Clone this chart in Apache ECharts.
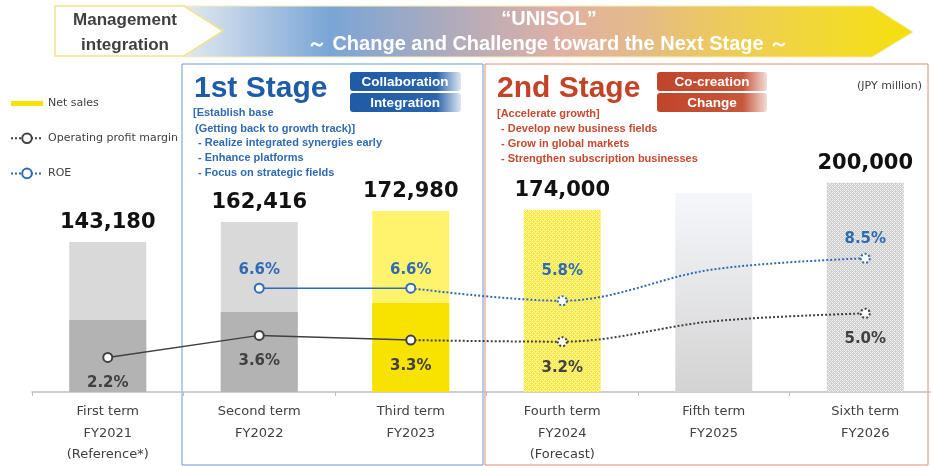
<!DOCTYPE html>
<html><head><meta charset="utf-8">
<script src="https://cdn.jsdelivr.net/npm/echarts@6/dist/echarts.min.js"></script>
<style>html,body{margin:0;padding:0;background:#fff}#c{width:931px;height:466px}</style>
</head><body><div id="c"></div>
<script>
// ---------- data ----------
const categories = ['First term\nFY2021\n(Reference*)', 'Second term\nFY2022', 'Third term\nFY2023',
  'Fourth term\nFY2024\n(Forecast)', 'Fifth term\nFY2025', 'Sixth term\nFY2026'];
const netSales = [143180, 162416, 172980, 174000, 190000, 200000];
const netSalesLowerPart = [68800, 76400, 85000, null, null, null];
const operatingProfitMargin = [2.2, 3.6, 3.3, 3.2, 4.5, 5.0];
const roe = [null, 6.6, 6.6, 5.8, 7.8, 8.5];
const valueLabelled = [true, true, true, true, false, true];
const lastActualIndex = 2;

// ---------- styles ----------
function pattern(bg, fg) {
  const c = document.createElement('canvas'); c.width = 4; c.height = 4;
  const g = c.getContext('2d'); g.fillStyle = bg; g.fillRect(0, 0, 4, 4); g.fillStyle = fg;
  for (let x = 0; x < 4; x++) for (let y = 0; y < 4; y++) {
    if ((x + y) % 4 === 0 || ((x - y) % 4 + 4) % 4 === 2) g.fillRect(x, y, 1, 1);
  }
  return { image: c, repeat: 'repeat' };
}
const fifthGrad = new echarts.graphic.LinearGradient(0, 0, 0, 1, [
  { offset: 0, color: '#f6f7fb' }, { offset: 1, color: '#d3d3d3' }]);
const topColors = ['#d9d9d9', '#d9d9d9', '#fff36e', pattern('#f9e838', '#fff8b8'), fifthGrad, pattern('#cfcfcf', '#efefef')];
const lowerColors = ['#b3b3b3', '#b3b3b3', '#f8e200'];
const OPM_C = '#404040', ROE_C = '#2e6bb4';
const roeLabelDist = [5, 5, 5, 17, 5, 6];
const numFont = '"DejaVu Sans", Verdana, sans-serif';
const arial = '"Liberation Sans", Arial, sans-serif';

function lineData(arr, color, solid, labelPos, dists) {
  return arr.map((v, i) => {
    const inRange = solid ? i <= lastActualIndex : i >= lastActualIndex;
    if (!inRange || v == null) return null;
    const own = solid ? true : i > lastActualIndex;
    const showSym = own && valueLabelled[i];
    return {
      value: v,
      symbol: showSym ? 'circle' : 'none',
      symbolSize: 9,
      itemStyle: { color: '#fff', borderColor: color, borderWidth: 2, borderType: solid ? 'solid' : 'dotted' },
      label: { show: showSym, position: labelPos, distance: dists ? dists[i] : 13, formatter: p => p.value.toFixed(1) + '%' }
    };
  });
}

function lineSeries(name, arr, color, labelPos, dists) {
  const common = {
    name, type: 'line', yAxisIndex: 1, z: 5, symbol: 'circle', symbolSize: 9,
    itemStyle: { color: '#fff', borderColor: color, borderWidth: 2 },
    label: { color, fontFamily: numFont, fontWeight: 'bold', fontSize: 15 },
    emphasis: { disabled: true }
  };
  return [
    Object.assign({}, common, { data: lineData(arr, color, true, labelPos, dists), lineStyle: { color, width: 1.5 } }),
    Object.assign({}, common, { data: lineData(arr, color, false, labelPos, dists), smooth: 0.35,
      lineStyle: { color, width: 2, type: 'dotted' } })
  ];
}

const chart = echarts.init(document.getElementById('c'));

const graphics = [
  { type: 'polygon', shape: { points: [[184, 6], [872, 6], [913, 32], [872, 57], [184, 57]] },
    style: { fill: new echarts.graphic.LinearGradient(0, 0, 1, 0, [
      { offset: 0, color: '#e4e9f0' }, { offset: 0.2, color: '#7aa5d6' }, { offset: 0.52, color: '#e0b1a4' },
      { offset: 0.63, color: '#e4bb88' }, { offset: 0.72, color: '#ecc862' }, { offset: 0.86, color: '#f1d839' },
      { offset: 1, color: '#f5e00c' }]), stroke: '#f7eeb0', lineWidth: 1 } },
  { type: 'polygon', shape: { points: [[55, 6], [184, 6], [223, 31], [184, 56], [55, 56]] },
    style: { fill: '#fff', stroke: '#f1e38a', lineWidth: 1.5 } },
  { type: 'text', style: { x: 125, y: 20, text: 'Management', font: 'bold 17px ' + arial, fill: '#404040', align: 'center', verticalAlign: 'middle' } },
  { type: 'text', style: { x: 125, y: 45, text: 'integration', font: 'bold 17px ' + arial, fill: '#404040', align: 'center', verticalAlign: 'middle' } },
  { type: 'text', style: { x: 549, y: 19, text: '\u201CUNISOL\u201D', font: 'bold 20px ' + arial, fill: '#fff', align: 'center', verticalAlign: 'middle' } },
  { type: 'text', style: { x: 548, y: 44, text: '\uFF5E Change and Challenge toward the Next Stage \uFF5E', font: 'bold 20px ' + arial, fill: '#fff', align: 'center', verticalAlign: 'middle' } },

  { type: 'rect', shape: { x: 182, y: 64, width: 301, height: 401 }, style: { fill: 'none', stroke: '#6c9ad2', lineWidth: 1 } },
  { type: 'rect', shape: { x: 485, y: 64, width: 443, height: 401 }, style: { fill: 'none', stroke: '#e08a74', lineWidth: 1 } },

  { type: 'text', style: { x: 194, y: 89, text: '1st Stage', font: 'bold 30px ' + arial, fill: '#1f5ca8', verticalAlign: 'middle' } },
  { type: 'text', style: { x: 497, y: 89, text: '2nd Stage', font: 'bold 30px ' + arial, fill: '#c34327', verticalAlign: 'middle' } },

  { type: 'rect', shape: { x: 350, y: 72, width: 111, height: 19, r: 3 }, style: { fill: new echarts.graphic.LinearGradient(0, 0, 1, 0, [{ offset: 0, color: '#1f5ba6' }, { offset: 0.78, color: '#2a64ad' }, { offset: 1, color: '#dfe7f2' }]) } },
  { type: 'rect', shape: { x: 350, y: 93, width: 111, height: 19, r: 3 }, style: { fill: new echarts.graphic.LinearGradient(0, 0, 1, 0, [{ offset: 0, color: '#1f5ba6' }, { offset: 0.78, color: '#2a64ad' }, { offset: 1, color: '#dfe7f2' }]) } },
  { type: 'text', style: { x: 405, y: 82, text: 'Collaboration', font: 'bold 13.5px ' + arial, fill: '#fff', align: 'center', verticalAlign: 'middle' } },
  { type: 'text', style: { x: 405, y: 103, text: 'Integration', font: 'bold 13.5px ' + arial, fill: '#fff', align: 'center', verticalAlign: 'middle' } },
  { type: 'rect', shape: { x: 657, y: 72, width: 110, height: 19, r: 3 }, style: { fill: new echarts.graphic.LinearGradient(0, 0, 1, 0, [{ offset: 0, color: '#c0452a' }, { offset: 0.78, color: '#c7573c' }, { offset: 1, color: '#f3dcd5' }]) } },
  { type: 'rect', shape: { x: 657, y: 93, width: 110, height: 19, r: 3 }, style: { fill: new echarts.graphic.LinearGradient(0, 0, 1, 0, [{ offset: 0, color: '#c0452a' }, { offset: 0.78, color: '#c7573c' }, { offset: 1, color: '#f3dcd5' }]) } },
  { type: 'text', style: { x: 712, y: 82, text: 'Co-creation', font: 'bold 13.5px ' + arial, fill: '#fff', align: 'center', verticalAlign: 'middle' } },
  { type: 'text', style: { x: 712, y: 103, text: 'Change', font: 'bold 13.5px ' + arial, fill: '#fff', align: 'center', verticalAlign: 'middle' } },

  { type: 'text', style: { x: 857, y: 86, text: '(JPY million)', font: '11px ' + numFont, fill: '#404040', verticalAlign: 'middle' } }
];
const s1 = [[193, 113, '[Establish base'], [195, 129, '(Getting back to growth track)]'], [198, 143, '- Realize integrated synergies early'], [198, 158, '- Enhance platforms'], [198, 173, '- Focus on strategic fields']];
const s2 = [[497, 114, '[Accelerate growth]'], [501, 129, '- Develop new business fields'], [501, 144, '- Grow in global markets'], [501, 159, '- Strengthen subscription businesses']];
s1.forEach(t => graphics.push({ type: 'text', style: { x: t[0], y: t[1], text: t[2], font: 'bold 11px ' + arial, fill: '#2e6bb4', verticalAlign: 'middle' } }));
s2.forEach(t => graphics.push({ type: 'text', style: { x: t[0], y: t[1], text: t[2], font: 'bold 11px ' + arial, fill: '#c8492e', verticalAlign: 'middle' } }));

chart.setOption({
  animation: false,
  backgroundColor: '#fff',
  grid: { left: 32, top: 57, right: -10, height: 335, outerBoundsMode: 'none', containLabel: false },
  legend: {
    orient: 'vertical', left: 10, top: 98, padding: 0, itemWidth: 32, itemHeight: 12, itemGap: 23.5, selectedMode: false,
    textStyle: { fontFamily: numFont, fontSize: 11, color: '#404040' },
    data: [
      { name: 'Net sales', icon: 'path://M0,0H32V5H0Z', itemStyle: { color: '#f8e200' } },
      { name: 'Operating profit margin', itemStyle: { color: '#fff', borderColor: OPM_C, borderWidth: 2 }, lineStyle: { color: OPM_C, width: 2, type: 'dotted' } },
      { name: 'ROE', itemStyle: { color: '#fff', borderColor: ROE_C, borderWidth: 2 }, lineStyle: { color: ROE_C, width: 2, type: 'dotted' } }
    ]
  },
  xAxis: {
    type: 'category', data: categories,
    axisLine: { lineStyle: { color: '#bfbfbf', width: 1.5 } },
    axisTick: { show: true, length: 4, interval: 0, lineStyle: { color: '#bfbfbf' } },
    axisLabel: { margin: 9, interval: 0, fontFamily: numFont, fontSize: 13, color: '#404040', lineHeight: 21.5 }
  },
  yAxis: [
    { type: 'value', min: 0, max: 320000, show: false },
    { type: 'value', min: 0, max: 21.3, show: false }
  ],
  graphic: graphics,
  series: [
    { name: 'Net sales', type: 'bar', barWidth: 77, barGap: '-100%', z: 2,
      data: netSales.map((v, i) => ({ value: v, itemStyle: { color: topColors[i] }, label: { show: valueLabelled[i] } })),
      label: { position: 'top', distance: 9, fontFamily: numFont, fontWeight: 'bold', fontSize: 21, color: '#111',
        formatter: p => p.value.toLocaleString('en-US') },
      emphasis: { disabled: true } },
    { name: 'Net sales', type: 'bar', barWidth: 77, barGap: '-100%', z: 3,
      data: netSalesLowerPart.map((v, i) => v == null ? null : ({ value: v, itemStyle: { color: lowerColors[i] } })),
      emphasis: { disabled: true } },
    ...lineSeries('Operating profit margin', operatingProfitMargin, OPM_C, 'bottom', null),
    ...lineSeries('ROE', roe, ROE_C, 'top', roeLabelDist)
  ]
});
</script></body></html>
